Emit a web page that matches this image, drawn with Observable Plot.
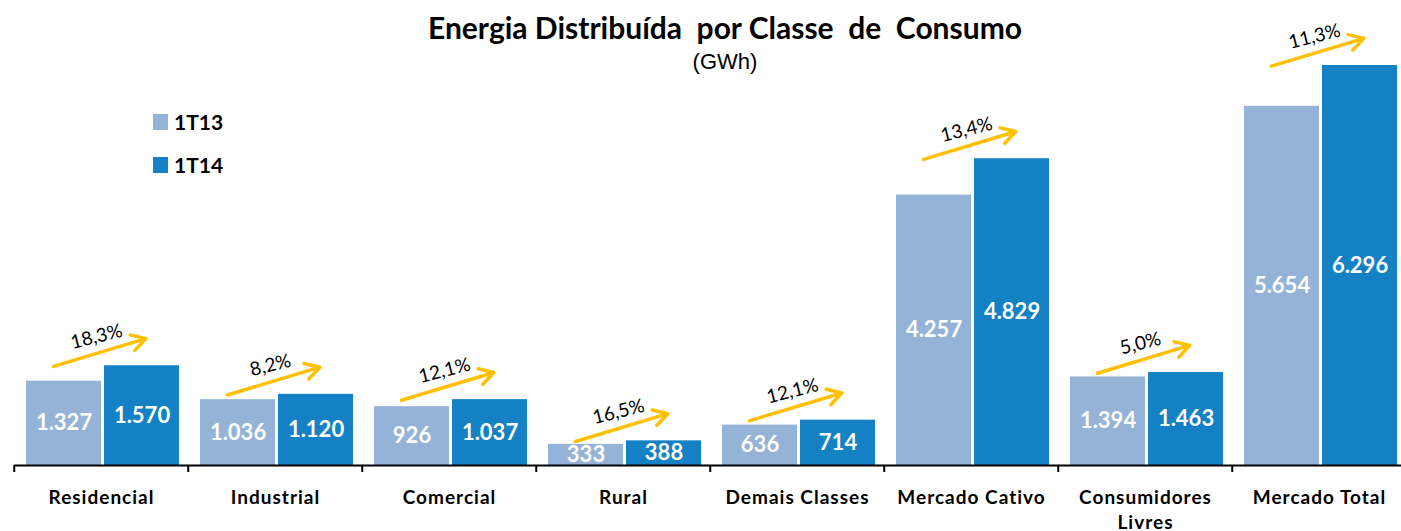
<!DOCTYPE html>
<html>
<head>
<meta charset="utf-8">
<script src="https://cdn.jsdelivr.net/npm/d3@7"></script>
<script src="https://cdn.jsdelivr.net/npm/@observablehq/plot@0.6"></script>
<style>
  html, body { margin: 0; padding: 0; background: #fff; overflow: hidden; }
  #wrap { position: relative; width: 1401px; height: 531px; }
  #title { position: absolute; left: 725px; top: 9px; transform: translateX(-50%); text-align: center; white-space: nowrap; }
  #title .t { font-family: Lato, sans-serif; font-weight: bold; font-size: 30px; color: #000; line-height: 36px; }
  #title .s { font-family: "Liberation Sans", Arial, sans-serif; font-size: 22px; color: #000; line-height: 24px; margin-top: 5px; }
  .leg { position: absolute; left: 153px; display: flex; align-items: center; font-family: Lato, sans-serif; font-weight: bold; font-size: 21px; color: #000; }
  .leg span.sw { display: inline-block; width: 15px; height: 16px; margin-right: 6px; }
  svg { position: absolute; left: 0; top: 0; }
  g[aria-label="fx-axis tick label"] text { letter-spacing: 1px; }
</style>
</head>
<body>
<div id="wrap">
  <div id="chart"></div>
  <div id="title"><div class="t">Energia Distribuída&nbsp; por Classe&nbsp; de&nbsp; Consumo</div><div class="s">(GWh)</div></div>
  <div id="legend"></div>
</div>
<script>
const categories = ["Residencial", "Industrial", "Comercial", "Rural", "Demais Classes", "Mercado Cativo", "Consumidores Livres", "Mercado Total"];
const series = ["1T13", "1T14"];
const values1T13 = [1327, 1036, 926, 333, 636, 4257, 1394, 5654];
const values1T14 = [1570, 1120, 1037, 388, 714, 4829, 1463, 6296];
const growth = [18.3, 8.2, 12.1, 16.5, 12.1, 13.4, 5.0, 11.3];
const colors = ["#95B3D7", "#1381C4"];
const arrowColor = "#FFC000";

const W = 1401, H = 531;
const mTop = 65, mBottom = 66, mLeft = 12, mRight = -7;

const data = [];
categories.forEach((c, i) => {
  data.push({category: c, series: "1T13", value: values1T13[i]});
  data.push({category: c, series: "1T14", value: values1T14[i]});
});
const growthData = categories.map((c, i) => ({category: c, top: values1T14[i], growth: growth[i]}));

const ptBR = d3.formatLocale({decimal: ",", thousands: ".", grouping: [3], currency: ["R$", ""]});
const fmtInt = ptBR.format(",d");
const fmtPct = ptBR.format(".1f");

const yMax = d3.max(data, d => d.value);
const unit = yMax / (H - mTop - mBottom); // data units per pixel

const chart = Plot.plot({
  width: W, height: H,
  marginTop: mTop, marginBottom: mBottom, marginLeft: mLeft, marginRight: mRight,
  style: {background: "transparent", overflow: "visible"},
  fx: {domain: categories, padding: 0, label: null},
  x: {domain: series, paddingInner: 0.043, paddingOuter: 0.134, align: 0.55, axis: null},
  y: {domain: [0, yMax], axis: null},
  color: {domain: series, range: colors},
  marks: [
    Plot.barY(data, {fx: "category", x: "series", y: "value", fill: "series"}),
    Plot.text(data, Plot.stackY({fx: "category", x: "series", y: "value",
      text: d => fmtInt(d.value), fill: "white", fontWeight: "bold", fontSize: 22,
      fontFamily: "Lato, sans-serif"})),
    Plot.ruleY([0], {stroke: "#000", strokeWidth: 2}),
    Plot.arrow(growthData, {fx: "category", x1: () => "1T13", x2: () => "1T14",
      y1: d => d.top + 2.5 * unit, y2: d => d.top + 26 * unit,
      stroke: arrowColor, strokeWidth: 3.5, headLength: 6.9, headAngle: 60,
      insetStart: -11, insetEnd: -4}),
    Plot.text(growthData, {fx: "category", y: "top", text: d => fmtPct(d.growth) + "%",
      dy: -29, dx: -5, rotate: -14, fontSize: 19, fill: "#000", fontFamily: "Lato, sans-serif"}),
    Plot.axisFx({anchor: "bottom", tickSize: 7, tickPadding: 0, dx: -(W - mLeft - mRight) / categories.length / 2,
      tickFormat: () => "", stroke: "#000", strokeWidth: 2, label: null}),
    Plot.axisFx({anchor: "bottom", tickSize: 0, tickPadding: 21,
      tickFormat: d => d.replace("Consumidores ", "Consumidores\n"),
      fontSize: 19, fontWeight: "bold", fill: "#000", fontFamily: "Lato, sans-serif", lineHeight: 1.3, label: null})
  ]
});
document.getElementById("chart").appendChild(chart);

const legend = document.getElementById("legend");
series.forEach((s, i) => {
  const div = document.createElement("div");
  div.className = "leg";
  div.style.top = (109 + i * 43) + "px";
  div.innerHTML = `<span class="sw" style="background:${colors[i]}"></span>${s}`;
  legend.appendChild(div);
});
</script>
</body>
</html>
